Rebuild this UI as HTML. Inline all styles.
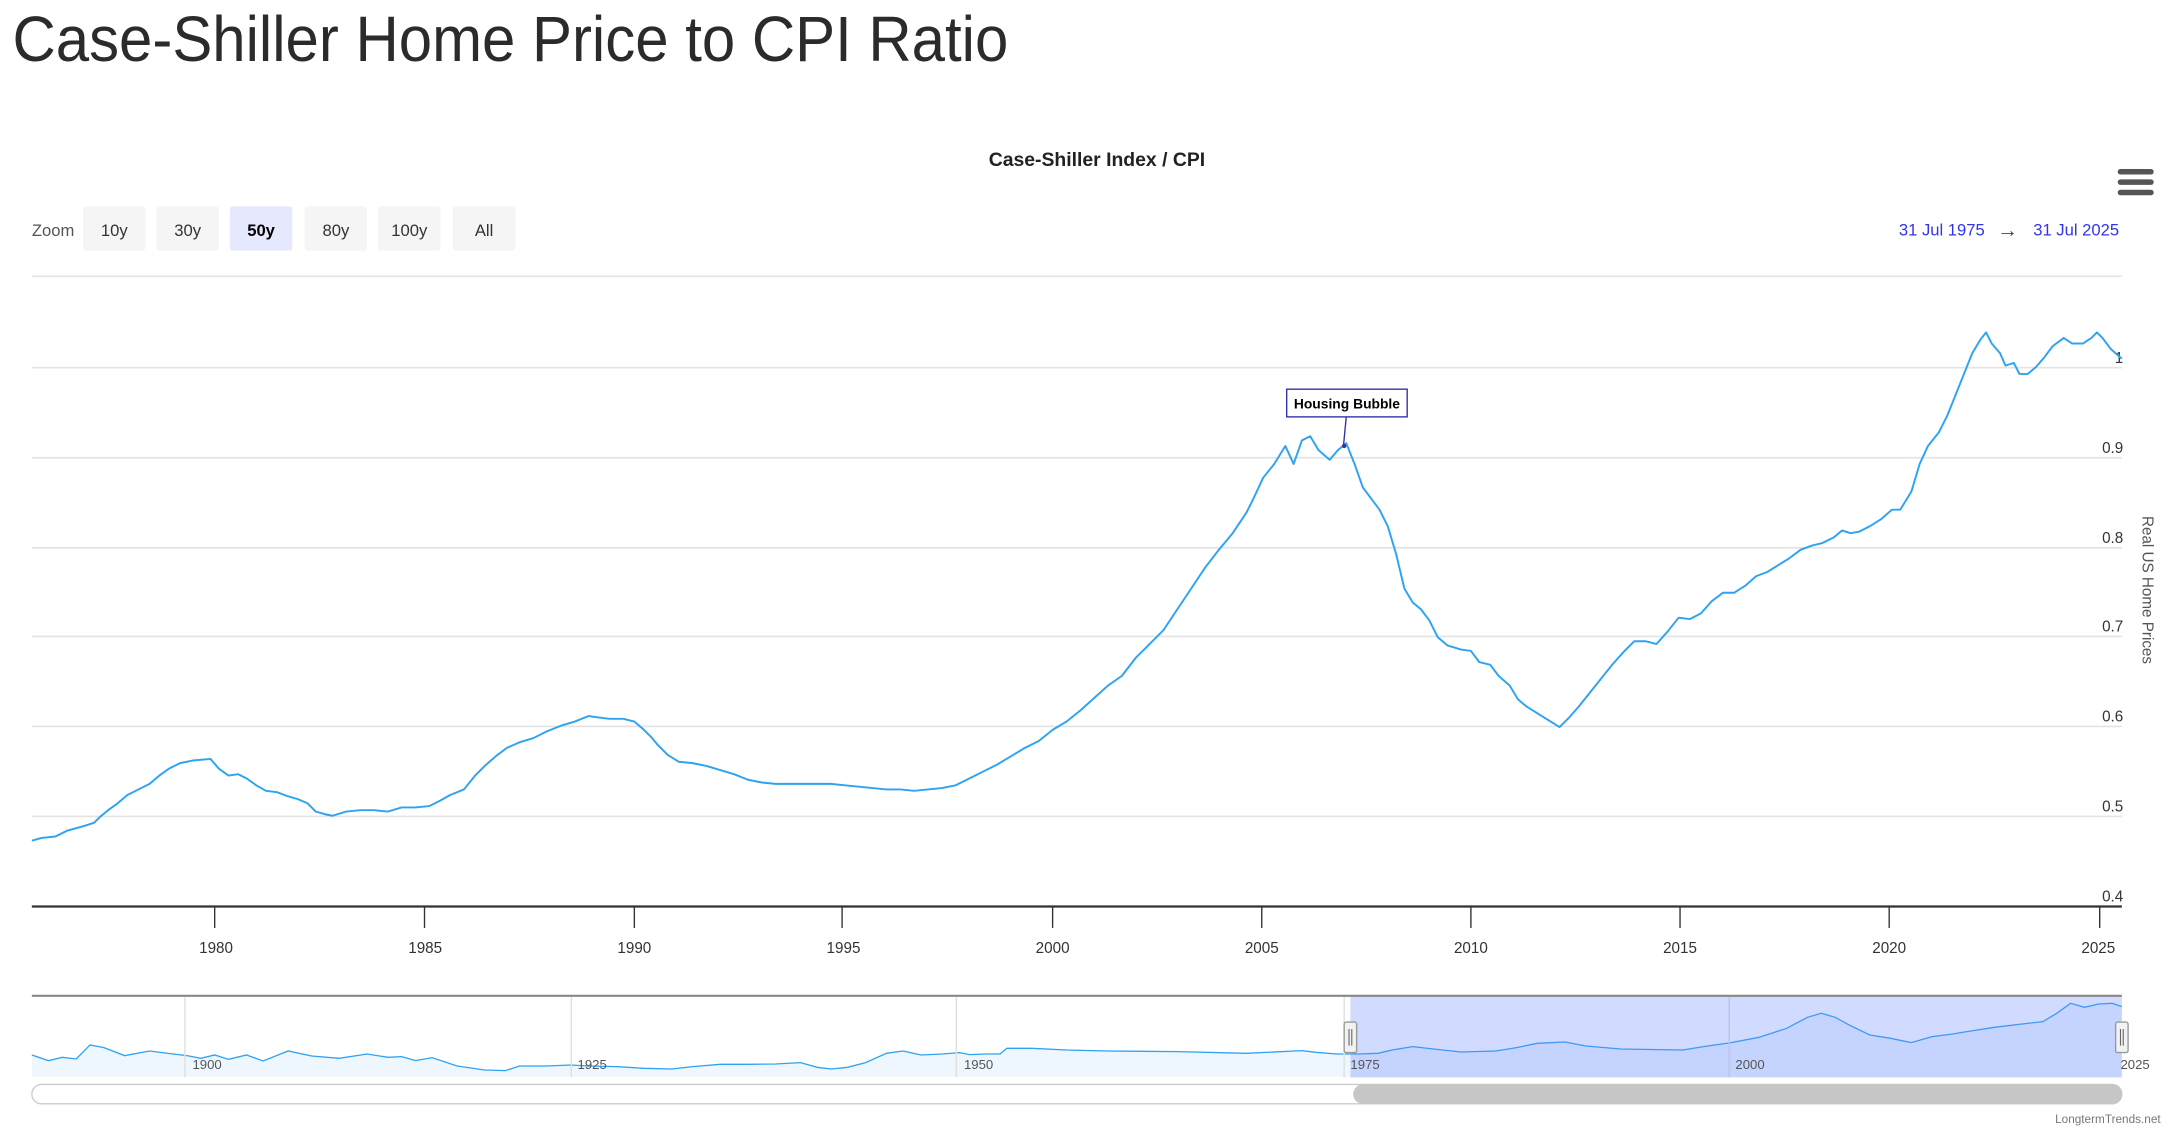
<!DOCTYPE html>
<html><head><meta charset="utf-8"><style>
html,body{margin:0;padding:0;background:#fff;}
svg{display:block;}
text{font-family:"Liberation Sans",Arial,sans-serif;}
</style></head><body>
<svg width="2172" height="1130" viewBox="0 0 1568.2 815.9" preserveAspectRatio="none" xmlns="http://www.w3.org/2000/svg">
<rect width="1568.2" height="815.9" fill="#fff"/>
<text x="9" y="44" font-size="46" fill="#2b2b2b" textLength="719" lengthAdjust="spacingAndGlyphs">Case-Shiller Home Price to CPI Ratio</text>
<text x="792" y="120" font-size="14" font-weight="bold" fill="#222" text-anchor="middle">Case-Shiller Index / CPI</text>
<g fill="#555"><rect x="1529" y="122" width="26" height="4" rx="2"/><rect x="1529" y="129.5" width="26" height="4" rx="2"/><rect x="1529" y="137" width="26" height="4" rx="2"/></g>
<text x="23" y="170.5" font-size="12" fill="#555">Zoom</text>
<g font-size="12" text-anchor="middle" fill="#333">
<rect x="60" y="149" width="45" height="32" rx="2" fill="#f5f5f5"/><text x="82.5" y="170.5">10y</text>
<rect x="113" y="149" width="45" height="32" rx="2" fill="#f5f5f5"/><text x="135.5" y="170.5">30y</text>
<rect x="166" y="149" width="45" height="32" rx="2" fill="#e6e8fd"/><text x="188.5" y="170.5" font-weight="bold" fill="#000">50y</text>
<rect x="220" y="149" width="45" height="32" rx="2" fill="#f5f5f5"/><text x="242.5" y="170.5">80y</text>
<rect x="273" y="149" width="45" height="32" rx="2" fill="#f5f5f5"/><text x="295.5" y="170.5">100y</text>
<rect x="327" y="149" width="45" height="32" rx="2" fill="#f5f5f5"/><text x="349.5" y="170.5">All</text>
</g>
<g font-size="12" fill="#3333ee"><text x="1371" y="170">31 Jul 1975</text><text x="1468" y="170">31 Jul 2025</text></g>
<text x="1442" y="171" font-size="15" fill="#444">→</text>
<g stroke="#e3e3e3" stroke-width="1.2">
<line x1="23" y1="199.5" x2="1532" y2="199.5"/><line x1="23" y1="265.5" x2="1532" y2="265.5"/><line x1="23" y1="330.5" x2="1532" y2="330.5"/><line x1="23" y1="395.5" x2="1532" y2="395.5"/><line x1="23" y1="459.5" x2="1532" y2="459.5"/><line x1="23" y1="524.5" x2="1532" y2="524.5"/><line x1="23" y1="589.5" x2="1532" y2="589.5"/>
</g>
<g font-size="11" fill="#333" text-anchor="end">
<text x="1533" y="262">1</text><text x="1533" y="327">0.9</text><text x="1533" y="392">0.8</text><text x="1533" y="456">0.7</text><text x="1533" y="521">0.6</text><text x="1533" y="586">0.5</text><text x="1533" y="651">0.4</text>
</g>
<text transform="translate(1547,426) rotate(90)" font-size="11" fill="#555" text-anchor="middle">Real US Home Prices</text>
<polyline fill="none" stroke="#2ea3f2" stroke-width="1.4" stroke-linejoin="round" points="23,607 30,605 40,604 48,600 55,598 62,596 68,594 72,590 78,585 85,580 92,574 100,570 108,566 115,560 122,555 130,551 140,549 152,548 158,555 165,560 172,559 178,562 185,567 192,571 200,572 208,575 215,577 222,580 228,586 235,588 240,589 250,586 260,585 270,585 280,586 290,583 300,583 310,582 318,578 325,574 335,570 343,560 350,553 358,546 366,540 375,536 385,533 395,528 405,524 415,521 425,517 432,518 440,519 450,519 458,521 465,527 470,532 475,538 482,545 490,550 500,551 510,553 520,556 530,559 540,563 550,565 560,566 570,566 580,566 590,566 600,566 610,567 620,568 630,569 640,570 650,570 660,571 670,570 680,569 690,567 700,562 710,557 720,552 730,546 740,540 750,535 760,527 770,521 780,513 790,504 800,495 810,488 820,475 830,465 840,455 850,440 860,425 870,410 880,397 890,385 900,370 905,360 912,345 920,335 928,322 934,335 940,318 946,315 952,325 960,332 966,325 972,320 978,335 984,352 990,360 996,368 1002,380 1008,400 1014,425 1020,435 1026,440 1032,448 1038,460 1045,466 1055,469 1062,470 1068,478 1076,480 1082,488 1090,495 1096,505 1102,510 1110,515 1118,520 1126,525 1133,518 1140,510 1148,500 1156,490 1164,480 1172,471 1180,463 1188,463 1196,465 1204,456 1212,446 1220,447 1228,443 1236,434 1244,428 1252,428 1260,423 1268,416 1276,413 1284,408 1292,403 1300,397 1308,394 1316,392 1324,388 1330,383 1336,385 1342,384 1350,380 1358,375 1366,368 1372,368 1380,355 1386,335 1392,322 1400,312 1406,300 1412,285 1418,270 1424,255 1430,245 1434,240 1438,248 1444,255 1448,264 1454,262 1458,270 1464,270 1470,265 1476,258 1482,250 1490,244 1496,248 1504,248 1510,244 1514,240 1518,244 1524,252 1532,259"/>
<line x1="23" y1="654.5" x2="1532" y2="654.5" stroke="#333" stroke-width="1.6"/>
<g stroke="#333" stroke-width="1">
<line x1="155" y1="655" x2="155" y2="670"/><line x1="306.5" y1="655" x2="306.5" y2="670"/><line x1="458" y1="655" x2="458" y2="670"/><line x1="608" y1="655" x2="608" y2="670"/><line x1="760" y1="655" x2="760" y2="670"/><line x1="911" y1="655" x2="911" y2="670"/><line x1="1062" y1="655" x2="1062" y2="670"/><line x1="1213" y1="655" x2="1213" y2="670"/><line x1="1364" y1="655" x2="1364" y2="670"/><line x1="1516" y1="655" x2="1516" y2="670"/>
</g>
<g font-size="11" fill="#333" text-anchor="middle">
<text x="156" y="688">1980</text><text x="307" y="688">1985</text><text x="458" y="688">1990</text><text x="609" y="688">1995</text><text x="760" y="688">2000</text><text x="911" y="688">2005</text><text x="1062" y="688">2010</text><text x="1213" y="688">2015</text><text x="1364" y="688">2020</text><text x="1515" y="688">2025</text>
</g>
<line x1="972" y1="301" x2="970" y2="322" stroke="#3333aa" stroke-width="1"/>
<circle cx="970.5" cy="322" r="1.6" fill="#3333aa"/>
<rect x="929" y="281" width="87" height="20" fill="#fff" stroke="#3333aa" stroke-width="1"/>
<text x="972.5" y="295" font-size="10" font-weight="bold" fill="#000" text-anchor="middle">Housing Bubble</text>
<!-- navigator -->
<rect x="23" y="719" width="1509" height="59" fill="#fff"/>
<g transform="translate(0,613.7) scale(1,0.2407)">
<polygon fill="#eef6fe" points="23,680 23,615 35,632 45,622 55,627 65,585 75,593 90,617 108,603 125,612 135,617 145,625 155,615 165,628 178,615 190,633 208,603 225,618 245,625 265,612 280,622 290,620 300,632 312,623 330,648 350,660 365,662 375,648 395,648 412,645 425,648 445,650 465,655 485,657 500,650 520,643 540,643 560,642 578,638 590,652 600,657 612,652 625,638 640,610 652,603 665,615 680,612 693,608 700,614 712,612 722,612 727,595 745,595 770,600 800,603 850,605 900,610 940,602 950,607 965,612 980,612 995,610 1005,600 1020,590 1035,597 1055,606 1080,603 1095,593 1110,580 1130,576 1145,588 1170,597 1215,600 1230,590 1250,578 1270,562 1290,535 1305,502 1315,490 1325,502 1335,525 1350,555 1365,565 1380,578 1395,560 1410,552 1420,545 1440,532 1460,522 1475,515 1485,490 1495,460 1505,472 1515,462 1525,460 1532,470 1532,680"/>
<polyline fill="none" stroke="#2ea3f2" stroke-width="1.3" vector-effect="non-scaling-stroke" points="23,615 35,632 45,622 55,627 65,585 75,593 90,617 108,603 125,612 135,617 145,625 155,615 165,628 178,615 190,633 208,603 225,618 245,625 265,612 280,622 290,620 300,632 312,623 330,648 350,660 365,662 375,648 395,648 412,645 425,648 445,650 465,655 485,657 500,650 520,643 540,643 560,642 578,638 590,652 600,657 612,652 625,638 640,610 652,603 665,615 680,612 693,608 700,614 712,612 722,612 727,595 745,595 770,600 800,603 850,605 900,610 940,602 950,607 965,612 980,612 995,610 1005,600 1020,590 1035,597 1055,606 1080,603 1095,593 1110,580 1130,576 1145,588 1170,597 1215,600 1230,590 1250,578 1270,562 1290,535 1305,502 1315,490 1325,502 1335,525 1350,555 1365,565 1380,578 1395,560 1410,552 1420,545 1440,532 1460,522 1475,515 1485,490 1495,460 1505,472 1515,462 1525,460 1532,470"/>
</g>
<g stroke="#e0e0e0" stroke-width="1"><line x1="133.5" y1="719" x2="133.5" y2="778"/><line x1="412.5" y1="719" x2="412.5" y2="778"/><line x1="690.5" y1="719" x2="690.5" y2="778"/><line x1="970.5" y1="719" x2="970.5" y2="778"/><line x1="1248.5" y1="719" x2="1248.5" y2="778"/></g>
<rect x="975" y="719" width="557" height="59" fill="rgba(102,133,255,0.3)"/>
<g font-size="9.5" fill="#555"><text x="139" y="772">1900</text><text x="417" y="772">1925</text><text x="696" y="772">1950</text><text x="975" y="772">1975</text><text x="1253" y="772">2000</text><text x="1531" y="772">2025</text></g>
<line x1="23" y1="719" x2="1532" y2="719" stroke="#888" stroke-width="1.5"/>
<g fill="#f2f2f2" stroke="#999" stroke-width="1">
<rect x="970.5" y="738" width="9" height="22" rx="1.5"/><rect x="1527.5" y="738" width="9" height="22" rx="1.5"/></g>
<g stroke="#666" stroke-width="0.8"><line x1="974" y1="743" x2="974" y2="755"/><line x1="976" y1="743" x2="976" y2="755"/><line x1="1531" y1="743" x2="1531" y2="755"/><line x1="1533" y1="743" x2="1533" y2="755"/></g>
<rect x="23" y="783" width="1509" height="14" rx="7" fill="#fff" stroke="#ccc" stroke-width="1"/>
<rect x="977" y="783" width="555" height="14" rx="7" fill="#c6c6c6"/>
<text x="1560" y="811" font-size="8.5" fill="#777" text-anchor="end">LongtermTrends.net</text>
</svg>
</body></html>
